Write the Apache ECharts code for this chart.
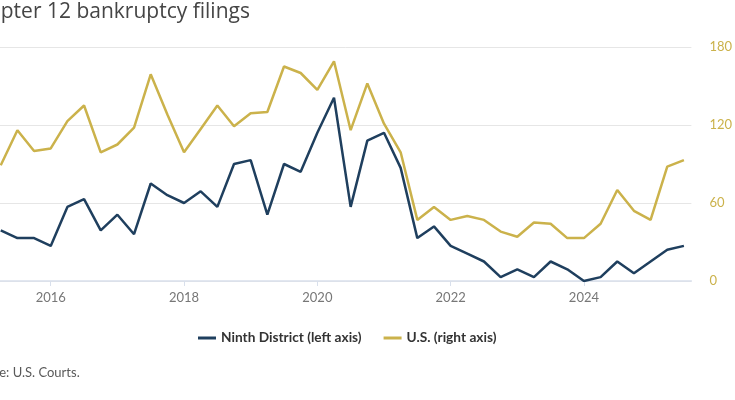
<!DOCTYPE html>
<html>
<head>
<meta charset="utf-8">
<script src="https://cdn.jsdelivr.net/npm/echarts@6/dist/echarts.min.js"></script>
<style>html,body{margin:0;padding:0;background:#fff;}#c{width:735px;height:400px;}</style>
</head>
<body>
<div id="c"></div>
<script>
var quarters = ['2015Q2','2015Q3','2015Q4',
  '2016Q1','2016Q2','2016Q3','2016Q4',
  '2017Q1','2017Q2','2017Q3','2017Q4',
  '2018Q1','2018Q2','2018Q3','2018Q4',
  '2019Q1','2019Q2','2019Q3','2019Q4',
  '2020Q1','2020Q2','2020Q3','2020Q4',
  '2021Q1','2021Q2','2021Q3','2021Q4',
  '2022Q1','2022Q2','2022Q3','2022Q4',
  '2023Q1','2023Q2','2023Q3','2023Q4',
  '2024Q1','2024Q2','2024Q3','2024Q4',
  '2025Q1','2025Q2','2025Q3'];
var ninthDistrict = [13,11,11,
  9,19,21,13,
  17,12,25,22,
  20,23,19,30,
  31,17,30,28,
  38,47,19,36,
  38,29,11,14,
  9,7,5,1,
  3,1,5,3,
  0,1,5,2,
  5,8,9];
var usTotal = [89,116,100,
  102,123,135,99,
  105,118,159,128,
  99,117,135,119,
  129,130,165,160,
  147,169,116,152,
  121,99,47,57,
  47,50,47,38,
  34,45,44,33,
  33,44,70,54,
  47,88,93];
var xTickYears = [2016,2018,2020,2022,2024];
var rightTicks = [0,60,120,180];

function qx(q){ return parseInt(q.slice(0,4),10) + (parseInt(q.slice(5),10)-1)/4; }
var ninthData = quarters.map(function(q,i){ return [qx(q), ninthDistrict[i]]; });
var usData = quarters.map(function(q,i){ return [qx(q), usTotal[i]]; });

var NAVY = '#1f3f5e', GOLD = '#cbb24b';
var FONT = 'Lato, "Noto Sans", sans-serif';

var chart = echarts.init(document.getElementById('c'), null, {renderer:'canvas'});
chart.setOption({
  backgroundColor: '#fff',
  animation: false,
  textStyle: {fontFamily: FONT},
  title: {
    text: 'Chapter 12 bankruptcy filings',
    left: -37, top: 2, padding: 0,
    textStyle: {fontSize: 21, fontWeight: 'normal', color: '#454545', fontFamily: '"Open Sans", Lato, sans-serif'}
  },
  graphic: [{
    type: 'text', left: -33, top: 366,
    style: {text: 'Source: U.S. Courts.', fontSize: 13, fill: '#595959', fontFamily: FONT}
  }],
  legend: {
    left: 193, top: 326, itemWidth: 18, itemHeight: 3, itemGap: 22,
    icon: 'rect',
    textStyle: {fontSize: 13.7, fontWeight: 'bold', color: '#333', fontFamily: FONT},
    data: ['Ninth District (left axis)', 'U.S. (right axis)']
  },
  grid: {left: 0, right: 40, top: 47, bottom: 119, containLabel: false},
  xAxis: {
    type: 'value', min: 2015.2388, max: 2025.612,
    axisLine: {show: true, lineStyle: {color: '#d9e0ec', width: 1.5}},
    axisTick: {show: true, length: 5, customValues: xTickYears, lineStyle: {color: '#d9e0ec', width: 1}},
    axisLabel: {customValues: xTickYears, color: '#777', fontSize: 13, margin: 10,
      formatter: function(v){ return xTickYears.indexOf(v) >= 0 ? String(v) : ''; }},
    splitLine: {show: false}
  },
  yAxis: [{
    type: 'value', min: 0, max: 60, interval: 20, position: 'left',
    axisLine: {show: false}, axisTick: {show: false},
    axisLabel: {show: false}, splitLine: {show: false}
  }, {
    type: 'value', min: 0, max: 180, interval: 60, position: 'right',
    axisLine: {show: false}, axisTick: {show: false},
    axisLabel: {color: GOLD, fontSize: 13, margin: 18,
      formatter: function(v){ return rightTicks.indexOf(v) >= 0 ? String(v) : ''; }},
    splitLine: {show: true, lineStyle: {color: '#e6e6e6', width: 1}}
  }],
  series: [{
    name: 'Ninth District (left axis)', type: 'line', yAxisIndex: 0,
    data: ninthData, showSymbol: false, symbol: 'none',
    lineStyle: {color: NAVY, width: 2.5}, itemStyle: {color: NAVY}
  }, {
    name: 'U.S. (right axis)', type: 'line', yAxisIndex: 1,
    data: usData, showSymbol: false, symbol: 'none',
    lineStyle: {color: GOLD, width: 2.5}, itemStyle: {color: GOLD}
  }]
});
</script>
</body>
</html>
